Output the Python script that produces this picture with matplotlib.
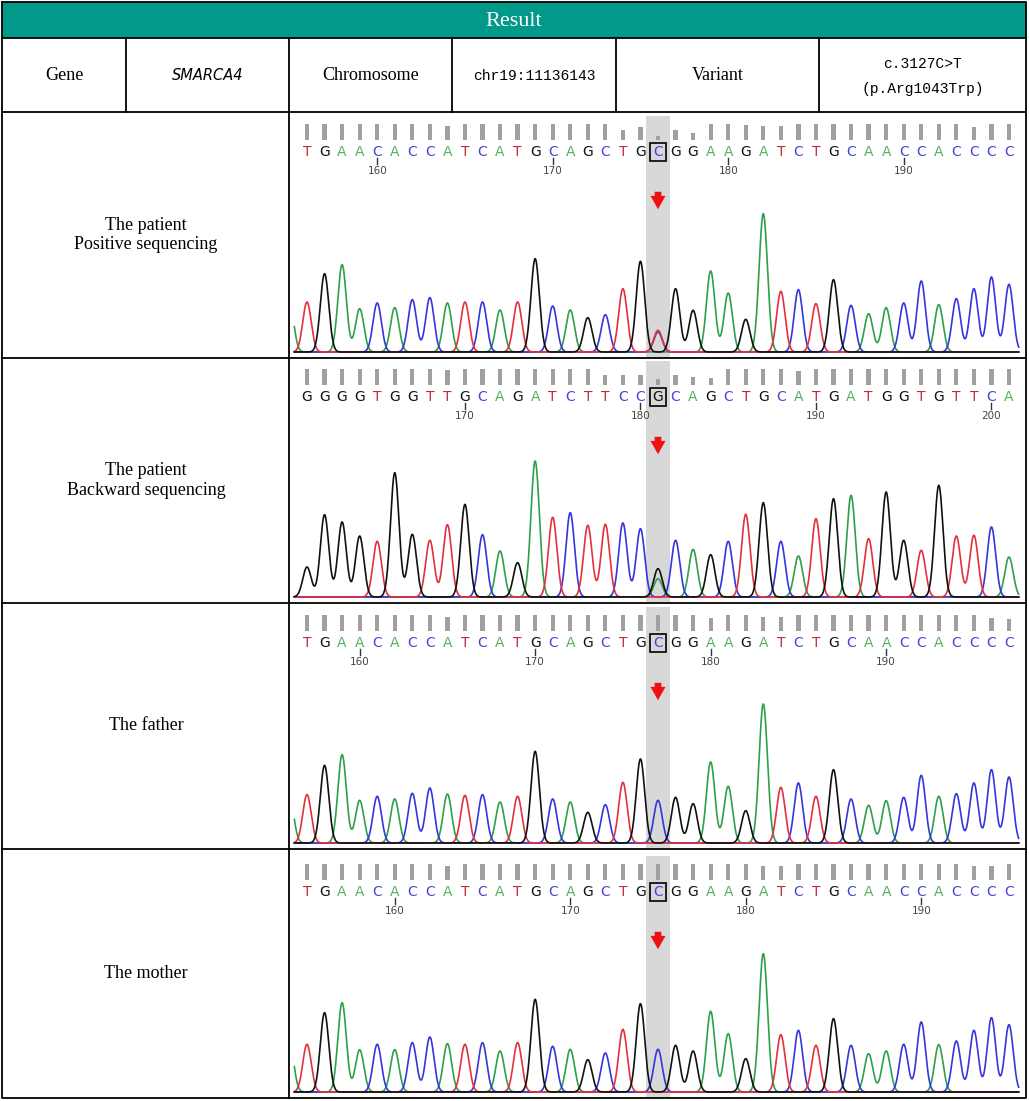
import numpy as np
import matplotlib
matplotlib.use("Agg")
import matplotlib.pyplot as plt
from matplotlib.patches import Rectangle
from matplotlib import font_manager

# ---------------- data ----------------
title = "Result"
info_cells = ["Gene", "SMARCA4", "Chromosome", "chr19:11136143", "Variant", "c.3127C>T\n(p.Arg1043Trp)"]
row_labels = ["The patient\nPositive sequencing", "The patient\nBackward sequencing",
              "The father", "The mother"]

# patient, forward
p1_seq = "TGAACACCATCATGCAGCTGCGGAAGATCTGCAACCACCCC"
p1_start = 156
p1_peaks = [150, 235, 262, 130, 147, 133, 157, 163, 147, 150,
            150, 126, 150, 280, 138, 126, 103, 112, 190, 272,
            60,
            190, 125, 243, 177, 98, 415, 182, 187, 145, 217,
            140, 115, 133, 147, 213, 142, 160, 190, 225, 203]
p1_extra = [(-1, "A", 150), (20, "T", 65)]
p1_qual = [1, 1, 1, 1, 1, 1, 1, 1, 0.85, 1,
           1, 1, 1, 1, 1, 1, 1, 1, 0.6, 0.8,
           0.25,
           0.6, 0.45, 1, 1, 0.95, 0.85, 0.85, 1, 1, 1,
           1, 1, 1, 1, 1, 1, 1, 0.8, 1, 1]

# patient, reverse
p2_seq = "GGGGTGGTTGCAGATCTTCCGCAGCTGCATGATGGTGTTCA"
p2_start = 161
p2_peaks = [90, 247, 225, 183, 167, 373, 188, 170, 217, 278,
            187, 138, 103, 408, 239, 253, 215, 218, 222, 205,
            85,
            170, 143, 127, 167, 248, 283, 167, 123, 235, 295,
            305, 175, 315, 170, 140, 335, 183, 185, 210, 120]
p2_extra = [(20, "A", 55)]
p2_qual = [1, 1, 1, 1, 1, 1, 1, 1, 0.95, 1,
           1, 1, 1, 1, 1, 1, 1, 0.65, 0.65, 0.65,
           0.35,
           0.65, 0.5, 0.45, 1, 1, 1, 1, 0.85, 1, 1,
           1, 1, 1, 1, 1, 1, 1, 1, 1, 1]

# father
p3_seq = "TGAACACCATCATGCAGCTGCGGAAGATCTGCAACCACCCC"
p3_start = 157
p3_peaks = [145, 233, 265, 128, 140, 132, 149, 165, 147, 143,
            145, 123, 140, 275, 132, 123, 92, 115, 182, 252,
            128,
            137, 118, 243, 170, 97, 417, 167, 180, 140, 220,
            132, 113, 127, 137, 203, 140, 148, 180, 220, 198]
p3_extra = [(-1, "A", 140)]
p3_qual = [1, 1, 1, 1, 1, 1, 1, 1, 0.85, 1,
           1, 1, 1, 1, 1, 1, 1, 1, 1, 1,
           1,
           1, 1, 0.8, 1, 1, 0.85, 0.85, 1, 1, 1,
           1, 1, 1, 1, 1, 1, 1, 1, 0.8, 0.75]

# mother
p4_seq = "TGAACACCATCATGCAGCTGCGGAAGATCTGCAACCACCCC"
p4_start = 155
p4_peaks = [143, 238, 268, 127, 143, 127, 148, 165, 145, 143,
            148, 123, 148, 278, 137, 128, 97, 117, 188, 265,
            128,
            140, 123, 242, 175, 100, 415, 172, 185, 140, 220,
            140, 115, 123, 143, 210, 142, 153, 185, 223, 202]
p4_extra = [(-1, "A", 150)]
p4_qual = [1, 1, 1, 1, 1, 1, 1, 1, 0.9, 1,
           1, 1, 1, 1, 1, 1, 1, 1, 1, 1,
           1,
           1, 1, 1, 1, 1, 0.85, 0.85, 1, 1, 1,
           1, 1, 1, 1, 1, 1, 1, 0.85, 0.85, 1]

mut_index = 20

# ---------------- styles ----------------
trace_col = {"A": "#2ea048", "C": "#3535dc", "G": "#111111", "T": "#e3303c"}
letter_col = {"A": "#55b060", "C": "#4444d8", "G": "#111111", "T": "#c0283c"}
teal = "#00998a"

names = {f.name for f in font_manager.fontManager.ttflist}
narrow = "Liberation Sans Narrow" in names
serif = ["Liberation Serif", "DejaVu Serif"]

W, H = 1029, 1101
fig = plt.figure(figsize=(W / 100, H / 100), dpi=100)
bg = fig.add_axes([0, 0, 1, 1])
bg.set_xlim(0, W)
bg.set_ylim(H, 0)
bg.axis("off")

# ---------------- table ----------------
L, R, T, B = 2, 1026, 2, 1098
bg.add_patch(Rectangle((L, T), R - L, 36, facecolor=teal, edgecolor="none"))
bg.text((L + R) / 2, 21, title, color="white", fontsize=16, family=serif, ha="center", va="center")

lw = 1.3
bg.plot([L, R, R, L, L], [T, T, B, B, T], color="black", lw=lw)
for y in [38, 112, 358, 603, 849]:
    bg.plot([L, R], [y, y], color="black", lw=lw)
col_x = [L, 126, 289, 452, 616, 819, R]
for x in col_x[1:-1]:
    bg.plot([x, x], [38, 112], color="black", lw=lw)
bg.plot([289, 289], [112, B], color="black", lw=lw)

for k, txt in enumerate(info_cells):
    cx = (col_x[k] + col_x[k + 1]) / 2
    if k in (0, 2, 4):
        bg.text(cx, 75, txt, fontsize=13, family=serif, ha="center", va="center")
    elif k == 1:
        if narrow:
            bg.text(cx, 75, txt, fontsize=12.5, family="Liberation Sans Narrow", style="italic",
                    ha="center", va="center")
        else:
            bg.text(cx, 75, txt, fontsize=10.5, style="italic", ha="center", va="center")
    else:
        bg.text(cx, 76, txt, fontsize=10.5, family=["Liberation Mono", "DejaVu Sans Mono"],
                ha="center", va="center", linespacing=2.0)

rows = [(112, 358), (358, 603), (603, 849), (849, 1098)]
for (top, bot), lab in zip(rows, row_labels):
    bg.text(146, (top + bot) / 2, lab, fontsize=13, family=serif, ha="center", va="center",
            linespacing=1.2)

# ---------------- chromatograms ----------------
panels = [
    (p1_seq, p1_start, p1_peaks, p1_extra, p1_qual),
    (p2_seq, p2_start, p2_peaks, p2_extra, p2_qual),
    (p3_seq, p3_start, p3_peaks, p3_extra, p3_qual),
    (p4_seq, p4_start, p4_peaks, p4_extra, p4_qual),
]

px0, px1 = 291, 1025
base0, step = 307, 17.55
sigma = 0.24

for (top, bot), (seq, start, peaks, extra, qual) in zip(rows, panels):
    y0, y1 = top + 1, bot - 1
    base_px = bot - 6
    ax = fig.add_axes([px0 / W, 1 - y1 / H, (px1 - px0) / W, (y1 - y0) / H])
    ax.set_xlim((px0 - base0) / step, (px1 - base0) / step)
    ax.set_ylim(-(y1 - base_px), base_px - y0)
    ax.axis("off")

    n = len(seq)
    m = mut_index
    # highlight band at variant
    ax.add_patch(Rectangle((m - 0.68, -10), 1.36, 246, facecolor="#d8d8d8", edgecolor="none", zorder=0))

    # traces
    x = np.linspace(-0.72, n - 0.45, 3000)
    sig = {b: np.zeros_like(x) for b in "ACGT"}
    for i, (b, h) in enumerate(zip(seq, peaks)):
        sig[b] += h * np.exp(-0.5 * ((x - i) / sigma) ** 2)
    for i, b, h in extra:
        sig[b] += h * np.exp(-0.5 * ((x - i) / sigma) ** 2)
    for b in ["A", "C", "T", "G"]:
        ax.plot(x, sig[b] / 3, color=trace_col[b], lw=1.2, zorder=2)

    # quality bars, base calls, ruler
    for i, b in enumerate(seq):
        ax.add_patch(Rectangle((i - 0.12, 212), 0.24, 16 * qual[i], facecolor="#a0a0a0",
                               edgecolor="none", zorder=3))
        ax.text(i, 200, b, color=letter_col[b], fontsize=10, ha="center", va="center", zorder=4)
        pos = start + i
        if pos % 10 == 0:
            ax.plot([i, i], [188, 194], color="#333333", lw=1, zorder=4)
            ax.text(i, 181, str(pos), fontsize=7.5, color="#444444", ha="center", va="center", zorder=4)

    ax.add_patch(Rectangle((m - 0.45, 191), 0.9, 18, facecolor="none", edgecolor="black", lw=1.2, zorder=5))
    ax.annotate("", xy=(m, 140), xytext=(m, 163),
                arrowprops=dict(arrowstyle="simple,head_width=0.9,head_length=0.8,tail_width=0.4",
                                color="#ee1111", lw=0, mutation_scale=12), zorder=5)

fig.savefig("out.png", dpi=100)
